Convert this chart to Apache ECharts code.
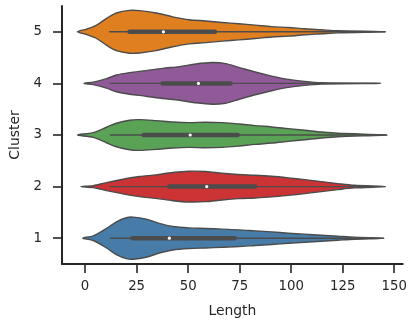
<!DOCTYPE html>
<html>
<head>
<meta charset="utf-8">
<script src="https://cdn.jsdelivr.net/npm/echarts@6/dist/echarts.min.js"></script>
<style>
  html, body { margin: 0; padding: 0; background: #fff; }
  #chart { width: 415px; height: 327px; }
</style>
</head>
<body>
<div id="chart"></div>
<script>
const clusters = ['1', '2', '3', '4', '5'];
const xTicks = [0, 25, 50, 75, 100, 125, 150];
const colors = ['#477ca8', '#cb3335', '#59a256', '#905998', '#df7f20'];

// violin outline per cluster: [length, half width in category units]
const shape1 = [[-1.1, 0], [4.0, 0.045], [10.4, 0.189], [15.2, 0.318], [20.0, 0.396], [23.2, 0.409], [29.6, 0.37], [36.0, 0.287], [42.5, 0.228], [50.5, 0.2], [58.5, 0.189], [66.5, 0.175], [74.5, 0.162], [82.5, 0.142], [90.5, 0.123], [98.6, 0.097], [106.5, 0.078], [114.6, 0.058], [122.6, 0.039], [130.6, 0.02], [145, 0]];
const shape2 = [[-2.1, 0], [4.0, 0.02], [10.4, 0.078], [18.4, 0.142], [26.4, 0.195], [34.4, 0.228], [42.5, 0.273], [50.5, 0.298], [58.5, 0.292], [66.5, 0.259], [74.5, 0.234], [82.5, 0.22], [90.5, 0.2], [98.6, 0.17], [106.5, 0.136], [114.6, 0.097], [122.6, 0.058], [130.6, 0.025], [145.8, 0]];
const shape3 = [[-3.7, 0], [4.0, 0.045], [10.4, 0.15], [15.2, 0.228], [21.6, 0.287], [26.4, 0.298], [34.4, 0.279], [42.5, 0.253], [50.5, 0.24], [58.5, 0.248], [66.5, 0.24], [74.5, 0.214], [82.5, 0.181], [90.5, 0.156], [98.6, 0.123], [106.5, 0.092], [114.6, 0.058], [122.6, 0.033], [146.6, 0]];
const shape4 = [[-0.5, 0], [4.0, 0.025], [10.4, 0.092], [15.2, 0.162], [21.6, 0.209], [29.6, 0.248], [37.6, 0.292], [45.7, 0.326], [53.7, 0.376], [61.7, 0.404], [68.1, 0.384], [74.5, 0.312], [82.5, 0.22], [90.5, 0.142], [98.6, 0.078], [106.5, 0.039], [114.6, 0.014], [143.4, 0]];
const shape5 = [[-3.7, 0], [0.8, 0.053], [5.6, 0.13], [10.4, 0.26], [15.2, 0.365], [21.6, 0.415], [26.4, 0.41], [34.4, 0.365], [42.5, 0.29], [50.5, 0.234], [58.5, 0.21], [66.5, 0.18], [74.5, 0.156], [82.5, 0.13], [90.5, 0.1], [98.6, 0.084], [106.5, 0.058], [114.6, 0.039], [122.6, 0.02], [145.8, 0]];
const shapes = [shape1, shape2, shape3, shape4, shape5];

// inner box: [whisker low, q1, median, q3, whisker high]
const box1 = [12, 22.9, 40.9, 72.6, 145];
const box2 = [12, 40.9, 59, 82.5, 145.8];
const box3 = [12, 28.4, 51, 74, 146.6];
const box4 = [12, 37.6, 55, 70.5, 143.4];
const box5 = [11.7, 21.6, 38, 63, 145.8];
const boxes = [box1, box2, box3, box4, box5];

const gray = '#4c4c4c';
const ink = '#262626';

function renderViolin(params, api) {
  const ci = api.value(1);
  const band = api.size([0, 1])[1];
  const prof = shapes[ci];
  const top = [], bot = [];
  prof.forEach(function (p) {
    const c = api.coord([p[0], ci]);
    top.push([c[0], c[1] - p[1] * band]);
    bot.push([c[0], c[1] + p[1] * band]);
  });
  const pts = top.concat(bot.slice(1, -1).reverse());
  const b = boxes[ci];
  const w0 = api.coord([b[0], ci]);
  const q1 = api.coord([b[1], ci]);
  const md = api.coord([b[2], ci]);
  const q3 = api.coord([b[3], ci]);
  const w1 = api.coord([b[4], ci]);
  return {
    type: 'group',
    children: [
      {
        type: 'polygon',
        shape: { points: pts, smooth: 0.3 },
        style: { fill: colors[ci], stroke: gray, lineWidth: 1.4 }
      },
      {
        type: 'line',
        shape: { x1: w0[0], y1: w0[1], x2: w1[0], y2: w1[1] },
        style: { stroke: gray, lineWidth: 1.4 }
      },
      {
        type: 'line',
        shape: { x1: q1[0], y1: q1[1], x2: q3[0], y2: q3[1] },
        style: { stroke: gray, lineWidth: 4.5, lineCap: 'round' }
      },
      {
        type: 'circle',
        shape: { cx: md[0], cy: md[1], r: 1.6 },
        style: { fill: '#fff' }
      }
    ]
  };
}

const chart = echarts.init(document.getElementById('chart'));
chart.setOption({
  animation: false,
  grid: { left: 59, right: 12.3, top: 6, bottom: 63 },
  xAxis: {
    type: 'value',
    min: -11.2,
    max: 154.1,
    name: 'Length',
    nameLocation: 'middle',
    nameGap: 40,
    nameTextStyle: { color: ink, fontSize: 13.9, fontFamily: 'DejaVu Sans' },
    splitLine: { show: false },
    axisLine: { show: true, onZero: false, lineStyle: { color: ink, width: 2 } },
    axisTick: { show: true, length: 9, lineStyle: { color: ink, width: 1.6 }, customValues: xTicks },
    axisLabel: { color: ink, fontSize: 13.3, fontFamily: 'DejaVu Sans', margin: 16, customValues: xTicks }
  },
  yAxis: {
    type: 'category',
    data: clusters,
    name: 'Cluster',
    nameLocation: 'middle',
    nameGap: 40,
    nameTextStyle: { color: ink, fontSize: 13.9, fontFamily: 'DejaVu Sans' },
    splitLine: { show: false },
    axisLine: { show: true, onZero: false, lineStyle: { color: ink, width: 2 } },
    axisTick: { show: true, alignWithLabel: true, length: 9, lineStyle: { color: ink, width: 1.6 } },
    axisLabel: { color: ink, fontSize: 13.3, fontFamily: 'DejaVu Sans', margin: 20 }
  },
  series: [{
    type: 'custom',
    renderItem: renderViolin,
    encode: { x: 0, y: 1 },
    data: boxes.map(function (b, i) { return [b[2], i]; })
  }]
});
</script>
</body>
</html>
